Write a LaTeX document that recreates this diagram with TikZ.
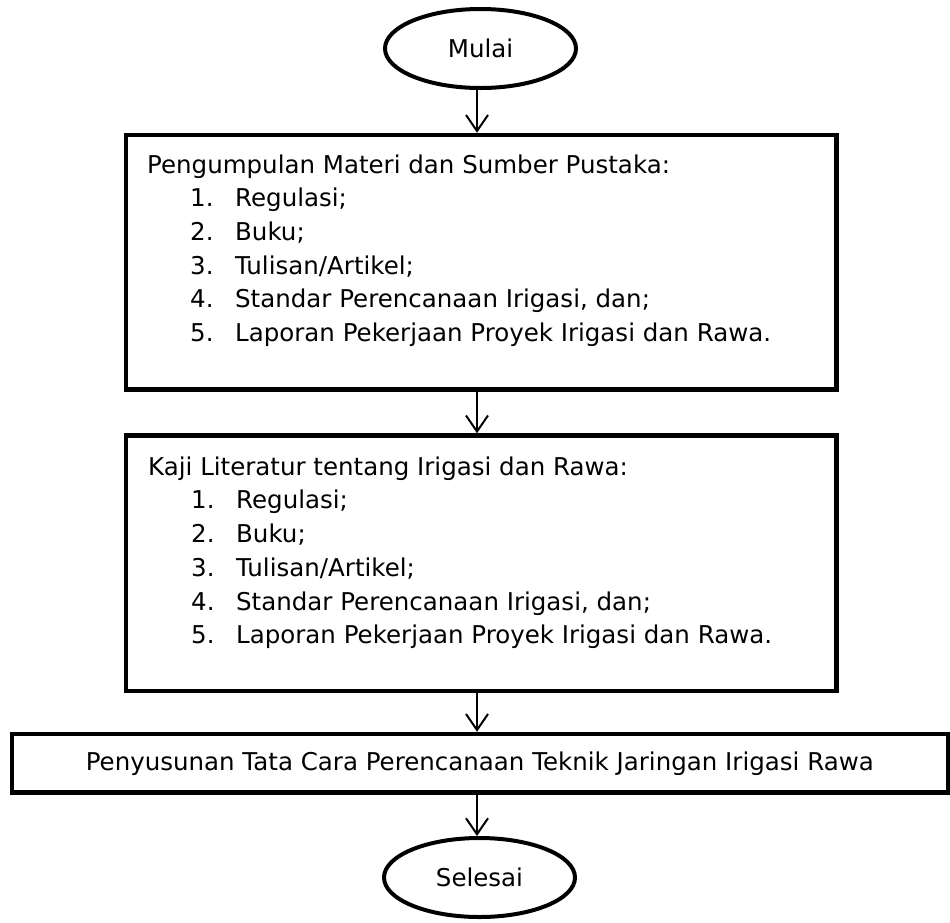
\documentclass[tikz,border=0pt]{standalone}
\usepackage{fontspec}
\setmainfont{DejaVu Sans}
\usetikzlibrary{arrows.meta,shapes.geometric}
\begin{document}
\begin{tikzpicture}[x=1pt,y=-1pt,
  txt/.style={font=\fontsize{24.5}{33.7}\selectfont},
  term/.style={draw, ellipse, line width=4pt, minimum width=191pt, minimum height=79pt, inner sep=0pt, txt},
  procbox/.style={draw, rectangle, line width=4.5pt, inner sep=0pt},
  listtxt/.style={txt, anchor=north west, align=left, inner sep=0pt},
  flow/.style={-{Straight Barb[length=16pt,width=22pt,line width=2pt]}, line width=2pt}
]
\useasboundingbox (0,0) rectangle (950,922);
\newcommand{\itm}[2]{\hspace*{43pt}\makebox[45pt][l]{#1}#2}
\coordinate (axis) at (477,0);

\node[term] (mulai) at (480.5,48.5) {Mulai};

\node[procbox, minimum width=710.5pt, minimum height=254.5pt] (box1) at (481.25,262.25) {};
\node[listtxt] (t1) at (147,149.4) {\strut Pengumpulan Materi dan Sumber Pustaka:\\
\itm{1.}{Regulasi;}\\
\itm{2.}{Buku;}\\
\itm{3.}{Tulisan/Artikel;}\\
\itm{4.}{Standar Perencanaan Irigasi, dan;}\\
\itm{5.}{Laporan Pekerjaan Proyek Irigasi dan Rawa.}};

\node[procbox, minimum width=710.5pt, minimum height=255.5pt] (box2) at (481.25,563.25) {};
\node[listtxt] (t2) at (148,451.4) {\strut Kaji Literatur tentang Irigasi dan Rawa:\\
\itm{1.}{Regulasi;}\\
\itm{2.}{Buku;}\\
\itm{3.}{Tulisan/Artikel;}\\
\itm{4.}{Standar Perencanaan Irigasi, dan;}\\
\itm{5.}{Laporan Pekerjaan Proyek Irigasi dan Rawa.}};

\node[procbox, txt, minimum width=936pt, minimum height=58.5pt] (box3) at (479.75,763.25) {Penyusunan Tata Cara Perencanaan Teknik Jaringan Irigasi Rawa};

\node[term] (selesai) at (479.5,877.5) {Selesai};

\draw[flow] (axis |- mulai.south) -- (axis |- box1.north);
\draw[flow] (axis |- box1.south) -- (axis |- box2.north);
\draw[flow] (axis |- box2.south) -- (axis |- box3.north);
\draw[flow] (axis |- box3.south) -- (axis |- selesai.north);
\end{tikzpicture}
\end{document}
